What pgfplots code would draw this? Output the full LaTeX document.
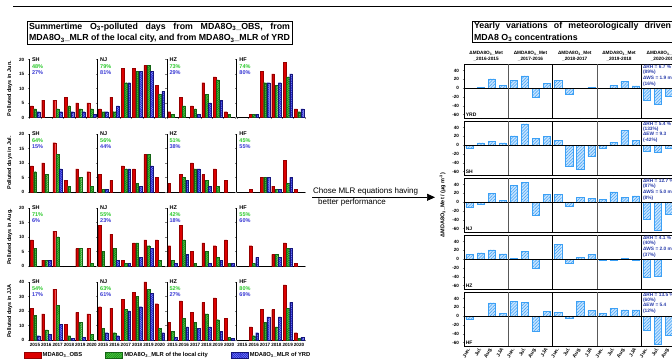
\documentclass[border=0pt]{standalone}
\usepackage{fontspec}
\setmainfont{Liberation Sans}
\usepackage{pgfplots}
\pgfplotsset{compat=1.18}
\usetikzlibrary{patterns,patterns.meta,arrows.meta}

\definecolor{obsred}{RGB}{220,0,0}
\definecolor{obsdk}{RGB}{150,0,0}
\definecolor{locgreen}{RGB}{70,205,60}
\definecolor{locdk}{RGB}{20,100,20}
\definecolor{yrdblue}{RGB}{35,35,205}
\definecolor{yrdlt}{RGB}{150,165,255}
\definecolor{metfill}{RGB}{200,228,255}
\definecolor{metline}{RGB}{60,160,245}
\definecolor{annblue}{RGB}{40,60,170}
\definecolor{pctgreen}{RGB}{40,200,40}
\definecolor{pctblue}{RGB}{50,50,210}

\newcommand{\fs}[1]{\fontsize{#1}{#1}\selectfont}

\pgfplotsset{
  obsC/.style={fill=obsred, draw=obsdk, line width=0.2pt},
  locC/.style={fill=locgreen, draw=locdk, line width=0.2pt, postaction={pattern={Lines[angle=45,distance=1.6pt,line width=0.45pt]}, pattern color=locdk}},
  yrdC/.style={fill=yrdblue, draw=yrdblue!60!black, line width=0.2pt, postaction={pattern={Lines[angle=-45,distance=1.6pt,line width=0.4pt]}, pattern color=yrdlt}},
  metC/.style={fill=metfill, draw=metline, line width=0.45pt, postaction={pattern={Lines[angle=45,distance=2.2pt,line width=0.5pt]}, pattern color=metline}},
  lpanel/.style={
    scale only axis, width=68pt, height=58pt, anchor=south west,
    axis x line*=bottom, axis y line*=left,
    axis line style={-, line width=0.5pt},
    xmin=2014.5, xmax=2020.5, ymin=0,
    tick align=outside, major tick length=1.5pt,
    xtick={2014.5,2015.5,2016.5,2017.5,2018.5,2019.5,2020.5}, xticklabels={},
    tick label style={font=\fs{4.6}\bfseries},
    /pgf/number format/assume math mode=true,
    ylabel style={font=\fs{5.5}\bfseries},
    clip=false,
  },
  mon/.style={ymax=20, ytick={0,5,10,15,20}},
  jja/.style={ymax=40, ytick={0,10,20,30,40}},
  nolab/.style={yticklabels={}},
  yrs/.style={extra x ticks={2015,2016,2017,2018,2019,2020}, extra x tick labels={2015,2016,2017,2018,2019,2020}, extra x tick style={major tick length=0pt}},
  rpanel/.style={
    scale only axis, width=221.5pt, height=54.1pt, anchor=south west,
    xmin=0.5, xmax=20.5, ymin=-68, ymax=55,
    ytick={-60,-40,-20,0,20,40}, xtick={1,...,20}, xticklabels={},
    tick align=outside, major tick length=1.5pt,
    xtick pos=left, ytick pos=left,
    tick label style={font=\fs{4.6}\bfseries},
    /pgf/number format/assume math mode=true,
    axis line style={line width=0.6pt},
    ylabel style={font=\fs{5.5}\bfseries},
    clip=false,
  },
  legend image code/.code={\draw[#1,/tikz/.cd,bar shift=0pt] (0pt,-3pt) rectangle (17pt,3pt);},
}

\newcommand{\lpan}[7]{%
\begin{axis}[lpanel,#1]
\addplot[ybar, bar width=2.7pt, bar shift=-3.3pt, obsC] coordinates {#5};
\addplot[ybar, bar width=2.7pt, bar shift=0pt, locC] coordinates {#6};
\addplot[ybar, bar width=2.7pt, bar shift=3.3pt, yrdC] coordinates {#7};
\node[anchor=west, font=\fs{5.5}\bfseries, inner sep=0.5pt] at (rel axis cs:0.03,1.0) {#2};
\node[anchor=west, font=\fs{5.5}\bfseries, text=pctgreen, inner sep=0.5pt] at (rel axis cs:0.03,0.885) {#3};
\node[anchor=west, font=\fs{5.5}\bfseries, text=pctblue, inner sep=0.5pt] at (rel axis cs:0.03,0.78) {#4};
\end{axis}}

\newcommand{\rpan}[4]{%
\begin{axis}[rpanel,#1]
\addplot[ybar, bar width=7.2pt, bar shift=0pt, metC] coordinates {#3};
\draw[line width=0.5pt] (axis cs:0.5,0) -- (axis cs:20.5,0);
\draw[gray!70!black, line width=0.6pt] (axis cs:4.5,-68) -- (axis cs:4.5,55);
\draw[black, line width=0.9pt] (axis cs:8.5,-68) -- (axis cs:8.5,55);
\draw[gray!70!black, line width=0.6pt] (axis cs:12.5,-68) -- (axis cs:12.5,55);
\draw[black, line width=0.9pt] (axis cs:16.5,-68) -- (axis cs:16.5,55);
\node[anchor=south west, font=\fs{5}\bfseries, inner sep=0.5pt] at (rel axis cs:0.005,0.01) {#2};
\node[anchor=north west, font=\fontsize{4.8}{5.3}\selectfont\bfseries, text=annblue, align=left, inner sep=0.5pt] at (axis cs:16.6,54.5) {#4};
\end{axis}}

\newcommand{\hdr}[2]{\node[anchor=south, font=\fontsize{4.7}{6}\selectfont\bfseries, align=center, inner sep=0pt, yshift=2.5pt] at (axis cs:#1,55) {ΔMDA8O\textsubscript{3}\_Met\\\_#2};}

\begin{document}
\begin{tikzpicture}
% top rule
\draw[line width=0.9pt] (13pt,355pt) -- (700pt,355pt);
% titles
\node[draw, line width=0.7pt, anchor=north west, inner xsep=2pt, inner ysep=1.5pt, text width=261pt, align=justify, font=\fontsize{8.8}{11.4}\selectfont\bfseries] at (26.7pt,339.7pt)
 {\parfillskip=0pt Summertime O\textsubscript{3}-polluted days from MDA8O\textsubscript{3}\_OBS, from\linebreak MDA8O\textsubscript{3}\_MLR of the local city, and from MDA8O\textsubscript{3}\_MLR of YRD};
\node[draw, line width=0.7pt, anchor=north west, inner xsep=2pt, inner ysep=1.2pt, text width=197pt, align=justify, font=\fontsize{8.8}{11.4}\selectfont\bfseries] at (471.7pt,340.3pt)
 {Yearly variations of meteorologically driven\linebreak MDA8 O\textsubscript{3} concentrations};

% ---------- left panel: Jun ----------
\lpan{at={(29.3pt,243.5pt)}, mon, ylabel={Polluted days in Jun.}}{SH}{48\%}{27\%}
 {(2015,4)(2016,6)(2017,6)(2018,7)(2019,5)(2020,5)}
 {(2015,3)(2017,3)(2018,4)(2019,3)(2020,3)}
 {(2015,2)(2017,2)(2018,2)(2019,2)(2020,1)}
\lpan{at={(97.5pt,243.5pt)}, mon, nolab}{NJ}{79\%}{81\%}
 {(2015,3)(2016,7)(2017,17)(2018,17)(2019,18)(2020,11)}
 {(2015,2)(2016,2)(2017,12)(2018,16)(2019,18)(2020,8)}
 {(2015,2)(2016,4)(2017,12)(2018,16)(2019,16)(2020,9)}
\lpan{at={(166.8pt,243.5pt)}, mon, nolab}{HZ}{73\%}{29\%}
 {(2015,2)(2016,7)(2017,4)(2018,12)(2019,14)(2020,2)}
 {(2015,1)(2016,4)(2017,3)(2018,8)(2019,13)(2020,1)}
 {(2017,1)(2018,5)(2019,6)}
\lpan{at={(236.7pt,243.5pt)}, mon, nolab}{HF}{74\%}{80\%}
 {(2016,1)(2017,16)(2018,15)(2019,19)(2020,3)}
 {(2016,1)(2017,12)(2018,11)(2019,14)(2020,2)}
 {(2016,1)(2017,12)(2018,12)(2019,15)(2020,3)}

% ---------- Jul ----------
\lpan{at={(29.3pt,169pt)}, mon, ylabel={Polluted days in Jul.}}{SH}{64\%}{15\%}
 {(2015,9)(2016,10)(2017,17)(2018,4)(2019,8)(2020,7)}
 {(2015,7)(2016,6)(2017,13)(2018,2)(2019,5)(2020,2)}
 {(2017,8)}
\lpan{at={(97.5pt,169pt)}, mon, nolab}{NJ}{56\%}{44\%}
 {(2015,6)(2016,4)(2017,9)(2018,8)(2019,13)(2020,5)}
 {(2015,1)(2017,8)(2018,3)(2019,13)}
 {(2015,1)(2017,8)(2018,2)(2019,9)}
\lpan{at={(166.8pt,169pt)}, mon, nolab}{HZ}{51\%}{38\%}
 {(2015,3)(2016,6)(2017,10)(2018,6)(2019,8)(2020,4)}
 {(2016,5)(2017,8)(2018,4)(2019,2)}
 {(2016,4)(2017,8)(2018,2)}
\lpan{at={(236.7pt,169pt)}, mon, nolab}{HF}{45\%}{55\%}
 {(2016,1)(2017,5)(2018,2)(2019,11)(2020,1)}
 {(2017,5)(2018,1)(2019,3)}
 {(2017,5)(2018,1)(2019,5)}

% ---------- Aug ----------
\lpan{at={(29.3pt,95pt)}, mon, ylabel={Polluted days in Aug.}}{SH}{71\%}{6\%}
 {(2015,9)(2016,2)(2017,12)(2019,6)(2020,6)}
 {(2015,6)(2016,2)(2017,10)(2019,6)(2020,1)}
 {(2016,2)}
\lpan{at={(97.5pt,95pt)}, mon, nolab}{NJ}{55\%}{23\%}
 {(2015,14)(2016,11)(2017,2)(2018,8)(2019,9)(2020,9)}
 {(2015,5)(2016,6)(2017,1)(2018,8)(2019,7)(2020,2)}
 {(2016,2)(2017,1)(2018,3)(2019,6)}
\lpan{at={(166.8pt,95pt)}, mon, nolab}{HZ}{42\%}{18\%}
 {(2015,7)(2016,14)(2017,5)(2018,8)(2019,7)(2020,9)}
 {(2015,2)(2016,9)(2017,1)(2018,5)(2019,3)(2020,1)}
 {(2015,1)(2016,4)(2018,1)(2019,2)(2020,1)}
\lpan{at={(236.7pt,95pt)}, mon, nolab}{HF}{55\%}{60\%}
 {(2016,7)(2018,4)(2019,8)(2020,1)}
 {(2016,1)(2018,4)(2019,6)}
 {(2016,3)(2018,3)(2019,6)}

% ---------- JJA ----------
\lpan{at={(29.3pt,21pt)}, jja, yrs, ylabel={Polluted days in JJA},
  legend entries={MDA8O\textsubscript{3}\_OBS, MDA8O\textsubscript{3}\_MLR of the local city, MDA8O\textsubscript{3}\_MLR of YRD},
  legend style={at={(-0.088,-0.26)}, anchor=west, draw=none, fill=none, inner sep=0pt, font=\fs{5.8}\bfseries, legend columns=3, /tikz/every even column/.append style={column sep=21pt}}}
 {SH}{54\%}{17\%}
 {(2015,22)(2016,18)(2017,35)(2018,11)(2019,19)(2020,18)}
 {(2015,17)(2016,7)(2017,24)(2018,3)(2019,12)(2020,4)}
 {(2015,3)(2016,4)(2017,11)(2018,1)(2019,2)}
\lpan{at={(97.5pt,21pt)}, jja, nolab, yrs}{NJ}{63\%}{61\%}
 {(2015,23)(2016,22)(2017,28)(2018,33)(2019,40)(2020,25)}
 {(2015,8)(2016,5)(2017,21)(2018,30)(2019,35)(2020,8)}
 {(2015,5)(2016,3)(2017,20)(2018,23)(2019,32)(2020,5)}
\lpan{at={(166.8pt,21pt)}, jja, nolab, yrs}{HZ}{52\%}{27\%}
 {(2015,12)(2016,27)(2017,19)(2018,26)(2019,29)(2020,15)}
 {(2015,6)(2016,15)(2017,12)(2018,18)(2019,14)(2020,2)}
 {(2015,2)(2016,9)(2017,8)(2018,9)(2019,6)(2020,1)}
\lpan{at={(236.7pt,21pt)}, jja, nolab, yrs}{HF}{80\%}{69\%}
 {(2016,9)(2017,21)(2018,21)(2019,38)(2020,5)}
 {(2016,3)(2017,12)(2018,9)(2019,22)(2020,1)}
 {(2016,5)(2017,16)(2018,16)(2019,26)(2020,2)}

% ---------- middle arrow ----------
\draw[line width=0.7pt, -{Triangle[length=8pt,width=7pt]}] (312pt,163.7pt) -- (435pt,163.7pt);
\node[anchor=base west, font=\fs{8}, inner sep=0pt] at (313pt,167.5pt) {Chose MLR equations having};
\node[anchor=base west, font=\fs{8}, inner sep=0pt] at (318pt,156pt) {better performance};

% ---------- right panel ----------
\begin{axis}[rpanel, at={(464pt,243pt)}]
\addplot[ybar, bar width=7.2pt, bar shift=0pt, metC] coordinates {(1,0)(2,2)(3,21)(4,6)(5,17)(6,28)(7,-21)(8,11)(9,18)(10,-13)(11,0)(12,1)(13,-1)(14,7)(15,15)(16,5)(17,-28)(18,-37)(19,-19)(20,-25)};
\draw[line width=0.5pt] (axis cs:0.5,0) -- (axis cs:20.5,0);
\draw[gray!70!black, line width=0.6pt] (axis cs:4.5,-68) -- (axis cs:4.5,55);
\draw[black, line width=0.9pt] (axis cs:8.5,-68) -- (axis cs:8.5,55);
\draw[gray!70!black, line width=0.6pt] (axis cs:12.5,-68) -- (axis cs:12.5,55);
\draw[black, line width=0.9pt] (axis cs:16.5,-68) -- (axis cs:16.5,55);
\node[anchor=south west, font=\fs{5}\bfseries, inner sep=0.5pt] at (rel axis cs:0.005,0.01) {YRD};
\node[anchor=north west, font=\fontsize{4.8}{5.3}\selectfont\bfseries, text=annblue, align=left, inner sep=0.5pt] at (axis cs:16.6,54.5) {ΔRH = 6.7 \%\\(89\%)\\ΔWS = 1.9 m s\textsuperscript{-1}\\(16\%)};
\hdr{2.5}{2016-2015}
\hdr{6.5}{2017-2016}
\hdr{10.5}{2018-2017}
\hdr{14.5}{2019-2018}
\hdr{18.5}{2020-2019}
\end{axis}
\rpan{at={(464pt,186pt)}}{SH}
 {(1,-8)(2,5)(3,8)(4,5)(5,21)(6,48)(7,15)(8,20)(9,10)(10,-49)(11,-55)(12,-26)(13,-7)(14,7)(15,33)(16,10)(17,-15)(18,-17)(19,-8)(20,-12)}
 {ΔRH = 5.4 \%\\(133\%)\\ΔEW = 9.3\\(-42\%)}
\rpan{at={(464pt,129pt)}, ylabel={ΔMDA8O\textsubscript{3}\_Met / (μg m\textsuperscript{-3})}}{NJ}
 {(1,-12)(2,-5)(3,20)(4,4)(5,38)(6,45)(7,-29)(8,18)(9,18)(10,-10)(11,11)(12,9)(13,7)(14,23)(15,10)(16,14)(17,-40)(18,-63)(19,-27)(20,-40)}
 {ΔRH = 12.7 \%\\(87\%)\\ΔWS = 5.0 m s\textsuperscript{-1}\\(8\%)}
\rpan{at={(464pt,72pt)}}{HZ}
 {(1,10)(2,14)(3,21)(4,12)(5,1)(6,18)(7,-21)(8,-1)(9,34)(10,-9)(11,4)(12,10)(13,-2)(14,-3)(15,1)(16,-3)(17,-42)(18,-40)(19,0)(20,-25)}
 {ΔRH = 4.1 \%\\(40\%)\\ΔWS = 2.0 m s\textsuperscript{-1}\\(37\%)}
\rpan{at={(464pt,15pt)}, xticklabels={Jun.,Jul.,Aug.,JJA,Jun.,Jul.,Aug.,JJA,Jun.,Jul.,Aug.,JJA,Jun.,Jul.,Aug.,JJA,Jun.,Jul.,Aug.,JJA}, xticklabel style={rotate=60, anchor=east, font=\fs{5}\bfseries, inner sep=1pt}}{HF}
 {(1,-7)(2,0)(3,30)(4,6)(5,33)(6,32)(7,-34)(8,10)(9,9)(10,-4)(11,33)(12,13)(13,7)(14,17)(15,14)(16,14)(17,-32)(18,-63)(19,-44)(20,-45)}
 {ΔRH = 13.5 \%\\(60\%)\\ΔEW = 5.4\\(12\%)}

\pgfresetboundingbox
\useasboundingbox (0pt,0pt) rectangle (672pt,361pt);
\end{tikzpicture}
\end{document}
